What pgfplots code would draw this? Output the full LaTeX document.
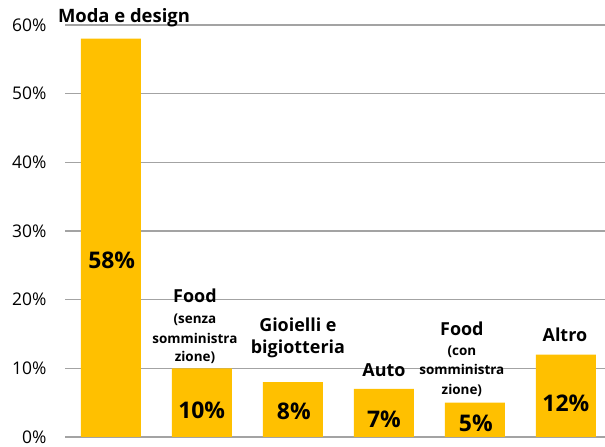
\documentclass[border=0pt]{standalone}
\usepackage{pgfplots}
\pgfplotsset{compat=1.18}
\usepackage{fontspec}
\setmainfont{Open Sans}
\definecolor{barc}{HTML}{FFC000}
\definecolor{gridc}{HTML}{A3A3A3}
\begin{document}
\begin{tikzpicture}[x=1bp,y=1bp]
\useasboundingbox (-65,-10) rectangle (540,437);
\begin{axis}[
  at={(0,0)}, anchor=south west,
  scale only axis, width=540bp, height=412bp,
  ymin=0, ymax=60, xmin=-0.505, xmax=5.43,
  axis line style={draw=none},
  ytick={0,10,...,60},
  yticklabel={\pgfmathprintnumber{\tick}\%},
  /pgf/number format/assume math mode=true,
  yticklabel style={font=\fontsize{17.5}{20}\selectfont, xshift=-15bp},
  ymajorgrids, grid style={gridc, line width=1.2bp},
  major tick length=0pt,
  xtick=\empty,
  clip=false,
]
\addplot[ybar, bar width=60bp, fill=barc, draw=none] coordinates {(0,58) (1,10) (2,8) (3,7) (4,5) (5,12)};
% category labels
\begin{scope}[every node/.style={anchor=base, inner sep=0pt, font=\bfseries\fontsize{18}{21}\selectfont}]
\node[font=\bfseries\fontsize{18.5}{21}\selectfont] at (axis cs:0.143,60.29) {Moda e design};
\node at (axis cs:0.923,19.56) {Food};
\node at (axis cs:2.055,15.33) {Gioielli e};
\node at (axis cs:2.055,12.09) {bigiotteria};
\node at (axis cs:3.0,8.88) {Auto};
\node at (axis cs:3.857,14.85) {Food};
\node at (axis cs:4.989,13.88) {Altro};
\end{scope}
\begin{scope}[every node/.style={anchor=base, inner sep=0pt, font=\bfseries\fontsize{13.5}{16}\selectfont}]
\node at (axis cs:0.923,16.56) {(senza};
\node at (axis cs:0.923,13.65) {somministra};
\node at (axis cs:0.923,10.97) {zione)};
\node at (axis cs:3.857,11.94) {(con};
\node at (axis cs:3.857,9.03) {somministra};
\node at (axis cs:3.857,6.26) {zione)};
\end{scope}
% value labels
\begin{scope}[every node/.style={anchor=base, inner sep=0pt, font=\bfseries\fontsize{23}{27}\selectfont}]
\node at (axis cs:0.008,24.57) {58\%};
\node at (axis cs:0.997,2.72) {10\%};
\node at (axis cs:2.01,2.48) {8\%};
\node at (axis cs:3.0,1.35) {7\%};
\node at (axis cs:4.01,0.77) {5\%};
\node at (axis cs:5.0,3.68) {12\%};
\end{scope}
\end{axis}
\end{tikzpicture}
\end{document}
